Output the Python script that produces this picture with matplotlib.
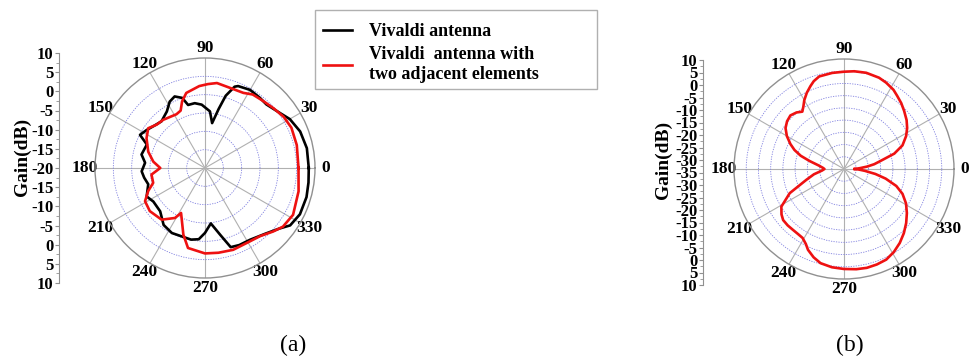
import numpy as np
import matplotlib
matplotlib.use("Agg")
import matplotlib.pyplot as plt
from matplotlib.lines import Line2D
from matplotlib.patches import Rectangle

plt.rcParams['font.family'] = ['Liberation Serif', 'DejaVu Serif']

# ---------------- data ----------------
# (a) Vivaldi antenna (black)
black_theta = [0, 11, 21, 30, 36, 46, 52, 60, 68, 70, 74, 77, 81, 85, 93, 99, 105,
               108, 113, 118, 124, 133, 140, 147, 153, 158, 168, 175, 183, 189,
               196, 206, 213, 224, 234, 243, 251, 259, 265, 270, 276, 283, 288,
               294, 302, 313, 321, 326, 334, 344, 352, 360]
black_gain = [8.3, 8.3, 7.8, 6.7, 5.4, 4.1, 4.3, 4.6, 4.1, 3.6, 0.5, -3.5, -7.6,
              -4.5, -2.7, -2.1, -2.2, 0.1, 1.2, 0.5, -1.4, -2.6, -2.0, -1.0, -0.1,
              -2.9, -2.3, -3.6, -2.7, -3.2, -3.9, -2.3, -3.2, -3.0, -0.8, -0.1,
              -0.3, -0.1, -0.5, -2.3, -4.8, -1.2, 2.7, 3.0, 3.1, 4.4, 6.2, 8.0,
              8.8, 8.8, 8.5, 8.3]
# (a) Vivaldi antenna with two adjacent elements (red)
red_theta = [0, 14, 25, 33, 41, 49, 57, 63, 73, 82, 88, 94, 104, 109, 113, 118,
             123, 131, 138, 145, 153, 164, 173, 180, 187, 196, 202, 209, 218, 230,
             239, 242, 252, 258, 270, 279, 289, 299, 309, 317, 323, 332, 346, 360]
red_gain = [5.5, 5.8, 6.0, 5.6, 4.8, 4.2, 3.9, 3.0, 2.9, 3.4, 2.9, 2.4, 1.1, -0.8,
            -3.0, -3.4, -3.2, -2.6, -2.3, -1.1, -2.1, -3.9, -5.8, -7.8, -5.3, -5.3,
            -3.3, -1.3, -0.9, -1.6, -4.1, -6.1, -0.9, 2.3, 3.3, 3.4, 3.6, 3.4, 3.9,
            5.4, 6.6, 7.2, 6.3, 5.5]
# (b)
b_theta = [0, 3, 6, 9, 12, 17, 22, 28, 33, 38, 44, 49, 54, 58, 64, 69, 77, 84, 90,
           97, 105, 109, 112, 116, 120, 123, 126, 130, 135, 140, 145, 150, 155,
           159, 163, 167, 172, 177, 180, 184, 190, 196, 204, 211, 216, 220, 225,
           230, 235, 239, 243, 246, 251, 256, 263, 270, 277, 283, 289, 295, 301,
           307, 313, 319, 325, 331, 337, 342, 347, 351, 355, 358, 360]
b_gain = [-30.6, -28.5, -25.5, -22.5, -20.1, -13.5, -9.2, -6.2, -4.2, -2.5, -0.8,
          0.7, 2.0, 3.2, 4.3, 5.0, 5.4, 5.2, 4.8, 4.6, 4.2, 3.0, 1.6, -0.3, -2.5,
          -4.5, -6.0, -4.8, -4.0, -4.6, -5.8, -8.0, -10.8, -13.3, -16.5, -20.6,
          -24.5, -26.4, -27.0, -26.0, -22.5, -19.0, -10.7, -5.1, -3.4, -2.5, -2.4,
          -2.5, -2.4, -2.1, -0.6, 1.2, 3.2, 4.7, 5.5, 5.9, 6.3, 6.5, 6.3, 5.9, 4.6,
          2.9, 0.9, -1.3, -3.6, -6.0, -9.0, -12.5, -17.5, -22.0, -26.5, -29.0,
          -30.6]

angle_ticks = [0, 30, 60, 90, 120, 150, 180, 210, 240, 270, 300, 330]
a_rings = [-15, -10, -5, 0, 5]
b_rings = [-30, -25, -20, -15, -10, -5, 0, 5]
a_scale_labels = ['10', '5', '0', '-5', '-10', '-15', '-20', '-15', '-10', '-5', '0', '5', '10']
b_scale_labels = ['10', '5', '0', '-5', '-10', '-15', '-20', '-25', '-30', '-35',
                  '-30', '-25', '-20', '-15', '-10', '-5', '0', '5', '10']
legend_labels = ['Vivaldi antenna', 'Vivaldi  antenna with\ntwo adjacent elements']

W, H = 972, 360
fig = plt.figure(figsize=(W / 100, H / 100), dpi=100)
RED = '#ee1111'


def fr(x0, y0, w, h):
    return [x0 / W, (H - y0 - h) / H, w / W, h / H]


def style_polar(ax, rmin, rmax, rings):
    ax.set_ylim(rmin, rmax)
    ax.set_thetagrids(angle_ticks, [str(a) for a in angle_ticks],
                      fontsize=12.5, fontweight='bold')
    ax.set_yticks(rings)
    ax.set_yticklabels([])
    ax.xaxis.grid(True, color='#b0b0b0', lw=0.8, ls='-')
    ax.yaxis.grid(True, color='#8080e0', lw=0.6, ls=(0, (1.5, 1.5)))
    ax.spines['polar'].set_color('#909090')
    ax.spines['polar'].set_linewidth(1.0)
    ax.tick_params(axis='x', pad=-3)


def scale_axis(x, ytop, ybot, labels, fs):
    n = len(labels)
    axv = fig.add_axes(fr(x, ytop, 1, ybot - ytop))
    half = (n - 1) / 2 * 5
    axv.set_ylim(-half, half)
    pos = np.linspace(half, -half, n)
    axv.set_yticks(pos)
    axv.set_yticklabels(labels, fontsize=fs, fontweight='bold')
    axv.set_yticks(np.arange(-half, half + 0.1, 2.5), minor=True)
    axv.tick_params(axis='y', which='major', length=3, color='#909090', pad=1)
    axv.tick_params(axis='y', which='minor', length=2, color='#909090')
    for s in ['top', 'right', 'bottom']:
        axv.spines[s].set_visible(False)
    axv.spines['left'].set_color('#909090')
    axv.set_xticks([])
    axv.patch.set_alpha(0)
    return axv


# ---- (a) ----
axa = fig.add_axes(fr(95, 58, 220, 220), projection='polar')
axa.plot(np.deg2rad(black_theta), black_gain, color='black', lw=1.9)
axa.plot(np.deg2rad(red_theta), red_gain, color=RED, lw=1.9)
style_polar(axa, -20, 10, a_rings)

scale_axis(59, 53, 283, a_scale_labels, 12)
fig.text(22 / W, 1 - 157 / H, 'Gain(dB)', rotation=90, ha='center', va='center',
         fontsize=14, fontweight='bold')

# ---- (b) ----
axb = fig.add_axes(fr(734, 59, 220, 220), projection='polar')
axb.plot(np.deg2rad(b_theta), b_gain, color=RED, lw=1.9)
style_polar(axb, -35, 10, b_rings)

scale_axis(703, 60, 285, b_scale_labels, 12)
fig.text(663 / W, 1 - 160 / H, 'Gain(dB)', rotation=90, ha='center', va='center',
         fontsize=14, fontweight='bold')

# ---- legend ----
fig.add_artist(Rectangle((315 / W, 1 - 89 / H), (597 - 315) / W, (89 - 10) / H,
                         transform=fig.transFigure, facecolor='white',
                         edgecolor='#b0b0b0', lw=1.0))
handles = [Line2D([], [], color='black', lw=1.9),
           Line2D([], [], color=RED, lw=1.9)]
leg = fig.legend(handles, legend_labels, loc='upper left',
                 bbox_to_anchor=(315 / W, 1 - 15 / H), frameon=False,
                 prop={'family': 'Liberation Serif', 'weight': 'bold', 'size': 13},
                 handlelength=1.6, handletextpad=0.95, borderpad=0.45,
                 labelspacing=0.35, borderaxespad=0)

# ---- captions ----
fig.text(293 / W, 1 - 345 / H, '(a)', ha='center', va='center', fontsize=17)
fig.text(850 / W, 1 - 345 / H, '(b)', ha='center', va='center', fontsize=17)

fig.savefig('out.png', dpi=100, facecolor='white')
